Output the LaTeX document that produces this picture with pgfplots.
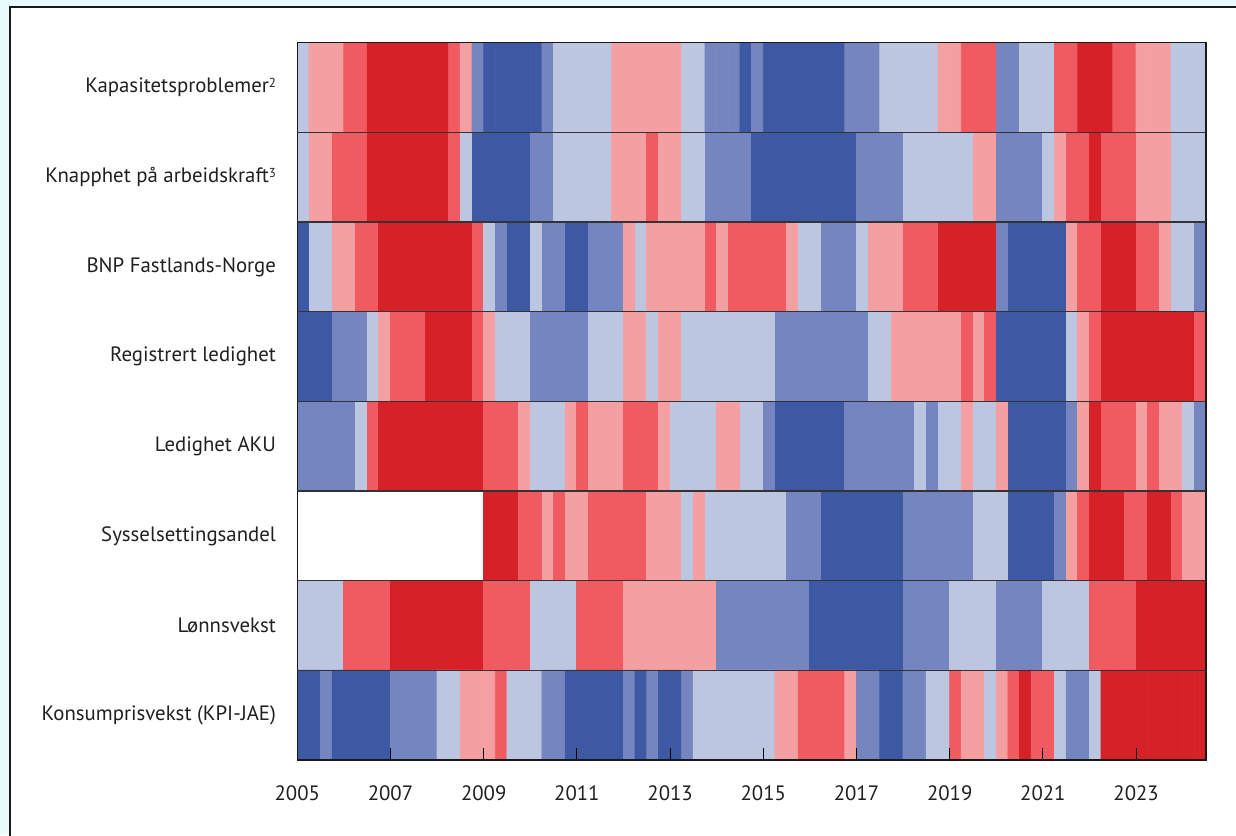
\documentclass[border=0pt]{standalone}
\usepackage{pgfplots}
\pgfplotsset{compat=1.18}
\usepackage{fontspec}
\setmainfont{PT Sans}
\definecolor{framecol}{RGB}{25,25,25}
\definecolor{outside}{RGB}{232,250,250}
\definecolor{txt}{RGB}{35,31,32}
\newcommand{\fnote}[1]{\raisebox{0.55ex}{\fontsize{6.5}{7}\selectfont #1}}
\begin{document}
\fontsize{10.4}{12}\selectfont
\begin{tikzpicture}
\useasboundingbox (-148.65pt,-37.5pt) rectangle (469.35pt,380pt);
\fill[outside] (-148.65pt,-37.5pt) rectangle (469.35pt,380pt);
\fill[white] (-143.65pt,-40pt) rectangle (472pt,376.35pt);
\draw[framecol, line width=0.9pt] (-143.65pt,-40pt) -- (-143.65pt,376.35pt) -- (472pt,376.35pt);
\begin{axis}[
    at={(0,0)}, anchor=south west,
    scale only axis,
    width=454.35pt, height=358.65pt,
    xmin=-0.5, xmax=77.5,
    ymin=-0.5, ymax=7.5,
    y dir=reverse,
    axis on top,
    axis line style={line width=0.7pt, black!90},
    colormap={heat}{rgb255=(255,255,255) rgb255=(61,89,164) rgb255=(117,133,192)
        rgb255=(188,198,225) rgb255=(244,160,163) rgb255=(240,91,98) rgb255=(214,33,40)},
    colormap access=direct,
    xtick={-0.5,7.5,15.5,23.5,31.5,39.5,47.5,55.5,63.5,71.5},
    xticklabels={2005,2007,2009,2011,2013,2015,2017,2019,2021,2023},
    xtick pos=bottom,
    tick align=inside,
    major tick length=5.8pt,
    xtick style={line width=0.5pt, black},
    xticklabel style={yshift=-9pt, text=txt},
    ytick={0,...,7},
    yticklabels={Kapasitetsproblemer\fnote{2},
        Knapphet på arbeidskraft\fnote{3},
        BNP Fastlands-Norge, Registrert ledighet, Ledighet AKU,
        Sysselsettingsandel, Lønnsvekst, Konsumprisvekst (KPI-JAE)},
    ytick style={draw=none},
    yticklabel style={xshift=-7pt, text=txt},
    extra y ticks={0.5,1.5,2.5,3.5,4.5,5.5,6.5},
    extra y tick labels={},
    extra y tick style={grid=major, major grid style={line width=0.6pt, black!80}},
    /pgf/number format/assume math mode=true,
]
\addplot[matrix plot*, mesh/cols=78, mesh/rows=8, point meta=explicit] coordinates {
(0,0)[3] (1,0)[4] (2,0)[4] (3,0)[4] (4,0)[5] (5,0)[5] (6,0)[6] (7,0)[6] (8,0)[6] (9,0)[6]
(10,0)[6] (11,0)[6] (12,0)[6] (13,0)[5] (14,0)[4] (15,0)[2] (16,0)[1] (17,0)[1] (18,0)[1] (19,0)[1]
(20,0)[1] (21,0)[2] (22,0)[3] (23,0)[3] (24,0)[3] (25,0)[3] (26,0)[3] (27,0)[4] (28,0)[4] (29,0)[4]
(30,0)[4] (31,0)[4] (32,0)[4] (33,0)[3] (34,0)[3] (35,0)[2] (36,0)[2] (37,0)[2] (38,0)[1] (39,0)[2]
(40,0)[1] (41,0)[1] (42,0)[1] (43,0)[1] (44,0)[1] (45,0)[1] (46,0)[1] (47,0)[2] (48,0)[2] (49,0)[2]
(50,0)[3] (51,0)[3] (52,0)[3] (53,0)[3] (54,0)[3] (55,0)[4] (56,0)[4] (57,0)[5] (58,0)[5] (59,0)[5]
(60,0)[2] (61,0)[2] (62,0)[3] (63,0)[3] (64,0)[3] (65,0)[5] (66,0)[5] (67,0)[6] (68,0)[6] (69,0)[6]
(70,0)[5] (71,0)[5] (72,0)[4] (73,0)[4] (74,0)[4] (75,0)[3] (76,0)[3] (77,0)[3]
(0,1)[3] (1,1)[4] (2,1)[4] (3,1)[5] (4,1)[5] (5,1)[5] (6,1)[6] (7,1)[6] (8,1)[6] (9,1)[6]
(10,1)[6] (11,1)[6] (12,1)[6] (13,1)[5] (14,1)[3] (15,1)[1] (16,1)[1] (17,1)[1] (18,1)[1] (19,1)[1]
(20,1)[2] (21,1)[2] (22,1)[3] (23,1)[3] (24,1)[3] (25,1)[3] (26,1)[3] (27,1)[4] (28,1)[4] (29,1)[4]
(30,1)[5] (31,1)[4] (32,1)[4] (33,1)[3] (34,1)[3] (35,1)[2] (36,1)[2] (37,1)[2] (38,1)[2] (39,1)[1]
(40,1)[1] (41,1)[1] (42,1)[1] (43,1)[1] (44,1)[1] (45,1)[1] (46,1)[1] (47,1)[1] (48,1)[2] (49,1)[2]
(50,1)[2] (51,1)[2] (52,1)[3] (53,1)[3] (54,1)[3] (55,1)[3] (56,1)[3] (57,1)[3] (58,1)[4] (59,1)[4]
(60,1)[2] (61,1)[2] (62,1)[2] (63,1)[2] (64,1)[3] (65,1)[4] (66,1)[5] (67,1)[5] (68,1)[6] (69,1)[5]
(70,1)[5] (71,1)[5] (72,1)[4] (73,1)[4] (74,1)[4] (75,1)[3] (76,1)[3] (77,1)[3]
(0,2)[1] (1,2)[3] (2,2)[3] (3,2)[4] (4,2)[4] (5,2)[5] (6,2)[5] (7,2)[6] (8,2)[6] (9,2)[6]
(10,2)[6] (11,2)[6] (12,2)[6] (13,2)[6] (14,2)[6] (15,2)[5] (16,2)[3] (17,2)[2] (18,2)[1] (19,2)[1]
(20,2)[3] (21,2)[2] (22,2)[2] (23,2)[1] (24,2)[1] (25,2)[2] (26,2)[2] (27,2)[2] (28,2)[4] (29,2)[3]
(30,2)[4] (31,2)[4] (32,2)[4] (33,2)[4] (34,2)[4] (35,2)[5] (36,2)[4] (37,2)[5] (38,2)[5] (39,2)[5]
(40,2)[5] (41,2)[5] (42,2)[4] (43,2)[3] (44,2)[3] (45,2)[2] (46,2)[2] (47,2)[2] (48,2)[3] (49,2)[4]
(50,2)[4] (51,2)[4] (52,2)[5] (53,2)[5] (54,2)[5] (55,2)[6] (56,2)[6] (57,2)[6] (58,2)[6] (59,2)[6]
(60,2)[2] (61,2)[1] (62,2)[1] (63,2)[1] (64,2)[1] (65,2)[1] (66,2)[4] (67,2)[5] (68,2)[5] (69,2)[6]
(70,2)[6] (71,2)[6] (72,2)[5] (73,2)[5] (74,2)[4] (75,2)[3] (76,2)[3] (77,2)[2]
(0,3)[1] (1,3)[1] (2,3)[1] (3,3)[2] (4,3)[2] (5,3)[2] (6,3)[3] (7,3)[4] (8,3)[5] (9,3)[5]
(10,3)[5] (11,3)[6] (12,3)[6] (13,3)[6] (14,3)[6] (15,3)[5] (16,3)[4] (17,3)[3] (18,3)[3] (19,3)[3]
(20,3)[2] (21,3)[2] (22,3)[2] (23,3)[2] (24,3)[2] (25,3)[3] (26,3)[3] (27,3)[3] (28,3)[4] (29,3)[4]
(30,3)[3] (31,3)[4] (32,3)[4] (33,3)[3] (34,3)[3] (35,3)[3] (36,3)[3] (37,3)[3] (38,3)[3] (39,3)[3]
(40,3)[3] (41,3)[2] (42,3)[2] (43,3)[2] (44,3)[2] (45,3)[2] (46,3)[2] (47,3)[2] (48,3)[2] (49,3)[3]
(50,3)[3] (51,3)[4] (52,3)[4] (53,3)[4] (54,3)[4] (55,3)[4] (56,3)[4] (57,3)[5] (58,3)[4] (59,3)[5]
(60,3)[1] (61,3)[1] (62,3)[1] (63,3)[1] (64,3)[1] (65,3)[1] (66,3)[3] (67,3)[4] (68,3)[5] (69,3)[6]
(70,3)[6] (71,3)[6] (72,3)[6] (73,3)[6] (74,3)[6] (75,3)[6] (76,3)[6] (77,3)[5]
(0,4)[2] (1,4)[2] (2,4)[2] (3,4)[2] (4,4)[2] (5,4)[3] (6,4)[5] (7,4)[6] (8,4)[6] (9,4)[6]
(10,4)[6] (11,4)[6] (12,4)[6] (13,4)[6] (14,4)[6] (15,4)[6] (16,4)[5] (17,4)[5] (18,4)[5] (19,4)[4]
(20,4)[3] (21,4)[3] (22,4)[3] (23,4)[4] (24,4)[5] (25,4)[4] (26,4)[4] (27,4)[4] (28,4)[5] (29,4)[5]
(30,4)[5] (31,4)[4] (32,4)[3] (33,4)[3] (34,4)[3] (35,4)[3] (36,4)[4] (37,4)[4] (38,4)[3] (39,4)[3]
(40,4)[2] (41,4)[1] (42,4)[1] (43,4)[1] (44,4)[1] (45,4)[1] (46,4)[1] (47,4)[2] (48,4)[2] (49,4)[2]
(50,4)[2] (51,4)[2] (52,4)[2] (53,4)[3] (54,4)[2] (55,4)[3] (56,4)[3] (57,4)[4] (58,4)[3] (59,4)[3]
(60,4)[4] (61,4)[1] (62,4)[1] (63,4)[1] (64,4)[1] (65,4)[1] (66,4)[2] (67,4)[4] (68,4)[6] (69,4)[5]
(70,4)[5] (71,4)[5] (72,4)[4] (73,4)[5] (74,4)[4] (75,4)[4] (76,4)[3] (77,4)[2]
(0,5)[0] (1,5)[0] (2,5)[0] (3,5)[0] (4,5)[0] (5,5)[0] (6,5)[0] (7,5)[0] (8,5)[0] (9,5)[0]
(10,5)[0] (11,5)[0] (12,5)[0] (13,5)[0] (14,5)[0] (15,5)[0] (16,5)[6] (17,5)[6] (18,5)[6] (19,5)[5]
(20,5)[5] (21,5)[4] (22,5)[5] (23,5)[4] (24,5)[4] (25,5)[5] (26,5)[5] (27,5)[5] (28,5)[5] (29,5)[5]
(30,5)[4] (31,5)[4] (32,5)[4] (33,5)[3] (34,5)[4] (35,5)[3] (36,5)[3] (37,5)[3] (38,5)[3] (39,5)[3]
(40,5)[3] (41,5)[3] (42,5)[2] (43,5)[2] (44,5)[2] (45,5)[1] (46,5)[1] (47,5)[1] (48,5)[1] (49,5)[1]
(50,5)[1] (51,5)[1] (52,5)[2] (53,5)[2] (54,5)[2] (55,5)[2] (56,5)[2] (57,5)[2] (58,5)[3] (59,5)[3]
(60,5)[3] (61,5)[1] (62,5)[1] (63,5)[1] (64,5)[1] (65,5)[2] (66,5)[4] (67,5)[5] (68,5)[6] (69,5)[6]
(70,5)[6] (71,5)[5] (72,5)[5] (73,5)[6] (74,5)[6] (75,5)[5] (76,5)[4] (77,5)[4]
(0,6)[3] (1,6)[3] (2,6)[3] (3,6)[3] (4,6)[5] (5,6)[5] (6,6)[5] (7,6)[5] (8,6)[6] (9,6)[6]
(10,6)[6] (11,6)[6] (12,6)[6] (13,6)[6] (14,6)[6] (15,6)[6] (16,6)[5] (17,6)[5] (18,6)[5] (19,6)[5]
(20,6)[3] (21,6)[3] (22,6)[3] (23,6)[3] (24,6)[5] (25,6)[5] (26,6)[5] (27,6)[5] (28,6)[4] (29,6)[4]
(30,6)[4] (31,6)[4] (32,6)[4] (33,6)[4] (34,6)[4] (35,6)[4] (36,6)[2] (37,6)[2] (38,6)[2] (39,6)[2]
(40,6)[2] (41,6)[2] (42,6)[2] (43,6)[2] (44,6)[1] (45,6)[1] (46,6)[1] (47,6)[1] (48,6)[1] (49,6)[1]
(50,6)[1] (51,6)[1] (52,6)[2] (53,6)[2] (54,6)[2] (55,6)[2] (56,6)[3] (57,6)[3] (58,6)[3] (59,6)[3]
(60,6)[2] (61,6)[2] (62,6)[2] (63,6)[2] (64,6)[3] (65,6)[3] (66,6)[3] (67,6)[3] (68,6)[5] (69,6)[5]
(70,6)[5] (71,6)[5] (72,6)[6] (73,6)[6] (74,6)[6] (75,6)[6] (76,6)[6] (77,6)[6]
(0,7)[1] (1,7)[1] (2,7)[2] (3,7)[1] (4,7)[1] (5,7)[1] (6,7)[1] (7,7)[1] (8,7)[2] (9,7)[2]
(10,7)[2] (11,7)[2] (12,7)[3] (13,7)[3] (14,7)[4] (15,7)[4] (16,7)[4] (17,7)[5] (18,7)[3] (19,7)[3]
(20,7)[3] (21,7)[2] (22,7)[2] (23,7)[1] (24,7)[1] (25,7)[1] (26,7)[1] (27,7)[1] (28,7)[2] (29,7)[1]
(30,7)[2] (31,7)[1] (32,7)[1] (33,7)[2] (34,7)[3] (35,7)[3] (36,7)[3] (37,7)[3] (38,7)[3] (39,7)[3]
(40,7)[3] (41,7)[4] (42,7)[4] (43,7)[5] (44,7)[5] (45,7)[5] (46,7)[5] (47,7)[4] (48,7)[2] (49,7)[2]
(50,7)[1] (51,7)[1] (52,7)[2] (53,7)[2] (54,7)[3] (55,7)[3] (56,7)[5] (57,7)[4] (58,7)[4] (59,7)[3]
(60,7)[4] (61,7)[5] (62,7)[6] (63,7)[5] (64,7)[5] (65,7)[3] (66,7)[2] (67,7)[2] (68,7)[3] (69,7)[6]
(70,7)[6] (71,7)[6] (72,7)[6] (73,7)[6] (74,7)[6] (75,7)[6] (76,7)[6] (77,7)[6]
};
\end{axis}
\end{tikzpicture}
\end{document}
